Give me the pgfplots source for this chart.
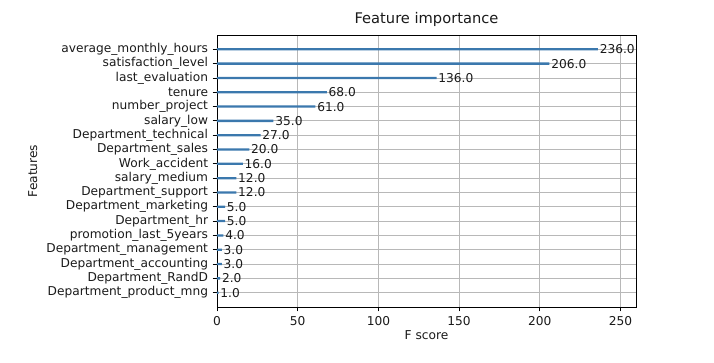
\documentclass[border=0pt]{standalone}
\usepackage{pgfplots}
\pgfplotsset{compat=1.18}
\usepackage{fontspec}
\setmainfont{DejaVu Sans}
\definecolor{barblue}{HTML}{3B78AD}
\definecolor{gridgray}{HTML}{B8B8B8}
\definecolor{txt}{HTML}{1A1A1A}
\begin{document}
\begin{tikzpicture}[x=1pt,y=1pt]
\useasboundingbox (-162.75,-42) rectangle (372.75,230.25);
\begin{axis}[
  at={(0,0)}, anchor=south west,
  scale only axis,
  width=314.25pt, height=204pt,
  xmin=0, xmax=259.6,
  ymin=-1, ymax=18,
  xbar, bar width=0.16,
  xtick={0,50,100,150,200,250},
  ytick={0,...,17},
  yticklabels={Department\_product\_mng, Department\_RandD, Department\_accounting, Department\_management, promotion\_last\_5years, Department\_hr, Department\_marketing, Department\_support, salary\_medium, Work\_accident, Department\_sales, Department\_technical, salary\_low, number\_project, tenure, last\_evaluation, satisfaction\_level, average\_monthly\_hours},
  tick align=outside, tick pos=left,
  major tick length=3.2pt,
  every tick/.style={black, line width=0.6pt},
  xmajorgrids, ymajorgrids,
  grid style={gridgray, line width=0.6pt},
  axis line style={black, line width=0.6pt},
  tick label style={font=\fontsize{9.15}{11}\selectfont, text=txt},
  /pgf/number format/assume math mode=true,
  xlabel={F score}, ylabel={Features},
  label style={font=\fontsize{9.15}{11}\selectfont, text=txt},
  xlabel style={yshift=3pt},
  title={Feature importance},
  title style={font=\fontsize{11}{13}\selectfont, yshift=-3pt, text=txt},
  point meta=x,
  nodes near coords={\pgfmathprintnumber[fixed,fixed zerofill,precision=1]{\pgfplotspointmeta}},
  nodes near coords style={anchor=west, inner sep=0pt, xshift=1.2pt, font=\fontsize{9.15}{11}\selectfont, text=txt},
]
\addplot[draw=none, fill=barblue] coordinates {
(1,0) (2,1) (3,2) (3,3) (4,4) (5,5) (5,6) (12,7) (12,8) (16,9) (20,10) (27,11) (35,12) (61,13) (68,14) (136,15) (206,16) (236,17)
};
\end{axis}
\end{tikzpicture}
\end{document}
